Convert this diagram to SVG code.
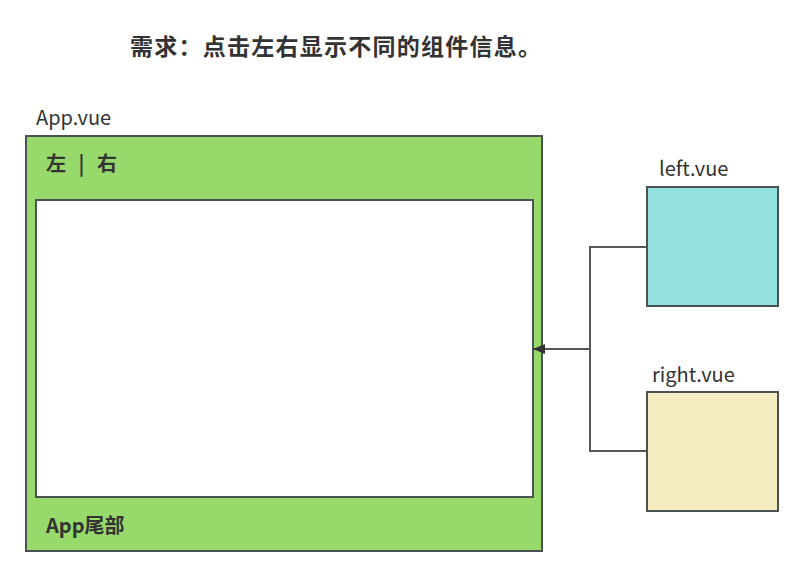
<svg xmlns="http://www.w3.org/2000/svg" width="803" height="577" viewBox="0 0 803 577">
<style>
text{font-family:"Microsoft YaHei","Noto Sans CJK SC","Noto Sans",sans-serif;fill:#333}
.lbl{font-size:20px}
.b{font-weight:bold;font-size:20px}
.box{stroke:#4a5252;stroke-width:2}
.conn{fill:none;stroke:#555;stroke-width:2}
</style>
<defs>
<marker id="ah" viewBox="0 0 12 10" refX="12" refY="5" markerWidth="12" markerHeight="10" markerUnits="userSpaceOnUse" orient="auto">
<path d="M0,0 L12,5 L0,10 z" fill="#333"/>
</marker>
</defs>
<rect width="803" height="577" fill="#fff"/>
<text x="130" y="55" style="font-size:23px;font-weight:bold" textLength="411">需求：点击左右显示不同的组件信息。</text>
<g id="app">
<text class="lbl" x="36" y="125">App.vue</text>
<rect class="box" x="26" y="136" width="516" height="415" fill="#97d96b"/>
<text class="b" x="46" y="171" style="word-spacing:8px">左 | 右</text>
<rect class="box" x="36" y="200" width="497" height="297" fill="#fff"/>
<text class="b" x="46" y="533">App尾部</text>
</g>
<g id="left">
<text class="lbl" x="659" y="176">left.vue</text>
<rect class="box" x="647" y="187" width="131" height="119" fill="#94dfe0"/>
</g>
<g id="right">
<text class="lbl" x="652" y="382">right.vue</text>
<rect class="box" x="647" y="392" width="131" height="119" fill="#f5edc1"/>
</g>
<g id="connectors">
<path class="conn" d="M647,247 H590 V451 H647"/>
<path class="conn" d="M590,349 H533" marker-end="url(#ah)"/>
</g>
</svg>
